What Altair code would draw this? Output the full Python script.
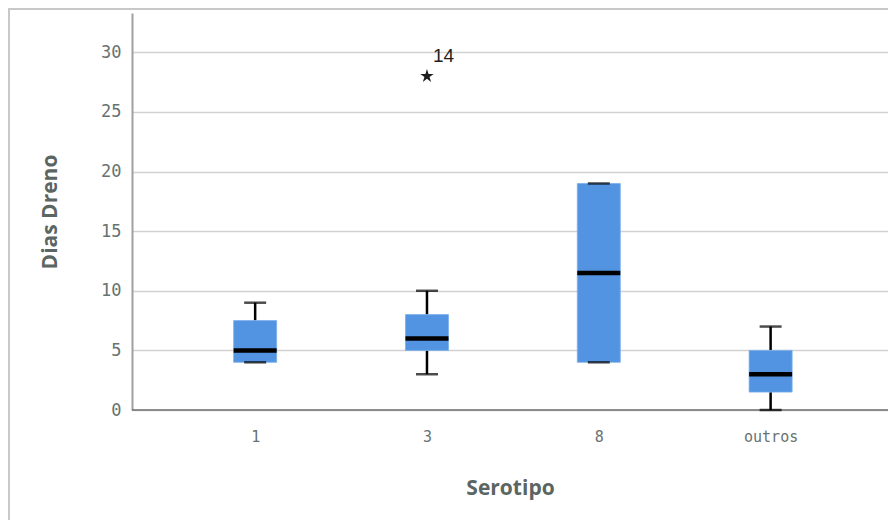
import altair as alt
import pandas as pd

# --- data ---
serotipo = ["1", "3", "8", "outros"]
minimo = [4, 3, 4, 0]
q1 = [4, 5, 4, 1.5]
mediana = [5, 6, 11.5, 3]
q3 = [7.5, 8, 19, 5]
maximo = [9, 10, 19, 7]

outlier_cat = ["3"]
outlier_val = [28]
outlier_lbl = ["14"]

df = pd.DataFrame({"Serotipo": serotipo, "min": minimo, "q1": q1,
                   "med": mediana, "q3": q3, "max": maximo})
dfo = pd.DataFrame({"Serotipo": outlier_cat, "v": outlier_val, "lbl": outlier_lbl})
dframe = pd.DataFrame({"a": [0]})

W, H = 756, 397
LABEL_COLOR = "#687270"

xs = alt.Scale(type="point", domain=serotipo, padding=0.70, align=0.512)
ys = alt.Scale(domain=[0, 33.3], nice=False, zero=True)

X = alt.X("Serotipo:N", scale=xs, title="Serotipo",
          axis=alt.Axis(labelAngle=0, ticks=False, grid=False, domain=False,
                        labelPadding=19, titlePadding=33,
                        labelFontSize=15, labelColor=LABEL_COLOR, labelFont="DejaVu Sans Mono"))
Y = alt.Y("min:Q", scale=ys, title="Dias Dreno",
          axis=alt.Axis(values=[0, 5, 10, 15, 20, 25, 30], ticks=False, grid=True,
                        gridColor="#d2d2d2", gridWidth=1.6, domainColor="#a0a0a0",
                        domainWidth=2, labelPadding=11, titlePadding=40,
                        labelFontSize=17, labelColor=LABEL_COLOR, labelFont="DejaVu Sans Mono"))

base = alt.Chart(df)

baseline = alt.Chart(dframe).mark_rule(color="#6e6e6e", strokeWidth=1.5).encode(
    y=alt.datum(0, scale=ys), x=alt.value(0), x2=alt.value(W))
lower_whisker = base.mark_rule(color="black", strokeWidth=2.5).encode(x=X, y=Y, y2="q1:Q")
upper_whisker = base.mark_rule(color="black", strokeWidth=2.5).encode(x=X, y="q3:Q", y2="max:Q")
cap_lo = base.mark_tick(color="black", size=22, thickness=2.5, orient="horizontal").encode(x=X, y="min:Q")
cap_hi = base.mark_tick(color="black", size=22, thickness=2.5, orient="horizontal").encode(x=X, y="max:Q")
box = base.mark_bar(size=43, color="#5294e2", stroke="#7aaeea", strokeWidth=0.8).encode(x=X, y="q1:Q", y2="q3:Q")
median = base.mark_tick(color="#000000", size=43, thickness=4.5, orient="horizontal", opacity=1).encode(
    x=X, y="med:Q")

STAR = ("M0,-1L0.22,-0.3L0.95,-0.31L0.36,0.12L0.59,0.81L0,0.38L-0.59,0.81"
        "L-0.36,0.12L-0.95,-0.31L-0.22,-0.3Z")
star = alt.Chart(dfo).mark_point(shape=STAR, size=200, filled=True, color="#1e1e1e", opacity=1).encode(
    x=alt.X("Serotipo:N", scale=xs), y=alt.Y("v:Q", scale=ys))
lbl = alt.Chart(dfo).mark_text(fontSize=19, font="Liberation Sans", color="#1e1e1e",
                               align="left", baseline="middle", dx=6, dy=-20).encode(
    x=alt.X("Serotipo:N", scale=xs), y=alt.Y("v:Q", scale=ys), text="lbl:N")

frame = alt.Chart(dframe).mark_rect(fill=None, stroke="#c8c8c8", strokeWidth=2).encode(
    x=alt.value(-123), x2=alt.value(900), y=alt.value(-4), y2=alt.value(700))

chart = alt.layer(frame, baseline, lower_whisker, upper_whisker, box, cap_lo, cap_hi, median,
                  star, lbl).properties(
    width=W, height=H,
    autosize=alt.AutoSizeParams(type="none"),
    padding={"left": 124, "top": 5, "right": 0, "bottom": 110},
).configure_view(stroke=None).configure_axis(
    titleFont="Open Sans", titleFontSize=21, titleFontWeight="bold", titleColor="#5b6562"
)

chart.save("out.html", embed_options={"renderer": "svg", "actions": False})
